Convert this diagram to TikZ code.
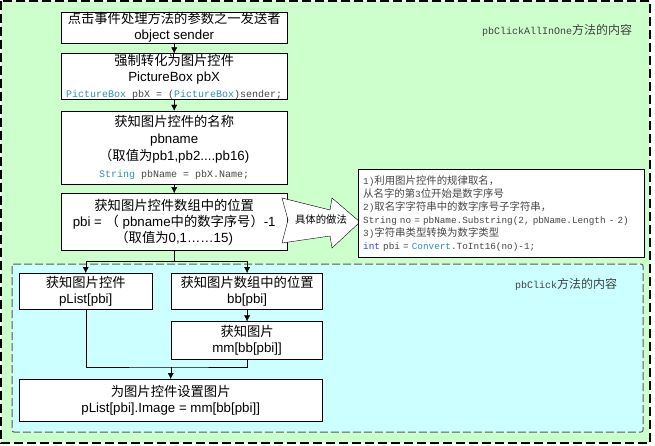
\documentclass[tikz,border=0pt]{standalone}
\usepackage{fontspec}
\setmainfont{Liberation Sans}
\newfontfamily\cjk{Noto Sans CJK SC}
\newfontfamily\codefont{Liberation Mono}
\usetikzlibrary{
    arrows.meta,
    positioning,
    calc
}
\definecolor{regiongreen}{RGB}{204,255,204}
\definecolor{regioncyan}{RGB}{204,255,255}
\definecolor{typeteal}{RGB}{43,145,175}
\definecolor{kwblue}{RGB}{60,60,230}
\definecolor{codegray}{RGB}{70,70,70}
\newcommand{\zh}[1]{{\cjk #1}}
\newcommand{\zhc}[1]{{\fontsize{10.4}{13}\selectfont\cjk #1}}
\newcommand{\zht}[1]{{\fontsize{12}{14}\selectfont\cjk #1}}
\newcommand{\cd}[1]{{\fontsize{10}{16}\selectfont\codefont\color{codegray}#1}}
\newcommand{\tp}[1]{\textcolor{typeteal}{#1}}

\begin{document}
\begin{tikzpicture}[
    x=1pt, y=-1pt,
    block/.style={rectangle, draw=black, fill=white, inner sep=0pt,
                  align=center, text centered,
                  font=\fontsize{13.3}{16}\selectfont},
    codebox/.style={rectangle, draw=black, fill=white, inner xsep=5pt, inner ysep=0pt,
                    align=left, text width=276pt, minimum height=88pt,
                    font=\fontsize{9.35}{13}\selectfont\codefont\color{codegray}},
    regionlabel/.style={font=\fontsize{10}{12}\selectfont\codefont, text=black!75},
    arrow/.style={-{Latex[length=6pt,width=6pt]}, black},
    line/.style={black}
]

    % regions
    \useasboundingbox (0,0) rectangle (655,446);
    \draw [fill=regiongreen, draw=black, line width=1.6pt, dash pattern=on 9pt off 4pt]
        (1,1) rectangle (650,443);
    \draw [fill=regioncyan, draw=black!65, line width=1pt, dash pattern=on 8pt off 3pt, rounded corners=2pt]
        (12,264) rectangle (643,432);
    \node (allinone) [regionlabel] at (557,30) {pbClickAllInOne\zht{方法的内容}};
    \node (click) [regionlabel] at (566,284) {pbClick\zht{方法的内容}};

    % pbClickAllInOne
    \node (sender) [block, minimum width=226pt, minimum height=31pt, anchor=north west] at (61,12)
        {\zh{点击事件处理方法的参数之一发送者}\\object sender};
    \node (pbx) [block, minimum width=226pt, minimum height=46pt, below=10pt of sender]
        {\zh{强制转化为图片控件}\\PictureBox pbX\\\cd{\tp{PictureBox} pbX = (\tp{PictureBox})sender;}};
    \node (pbname) [block, minimum width=226pt, minimum height=73pt, below=11pt of pbx,
                    font=\fontsize{13.3}{17.2}\selectfont]
        {\zh{获知图片控件的名称}\\pbname\\\zh{（取值为}pb1,pb2....pb16)\\\cd{\tp{String} pbName = pbX.Name;}};
    \node (pbi) [block, minimum width=226pt, minimum height=57pt, below=9pt of pbname]
        {\zh{获知图片控件数组中的位置}\\pbi = \zh{（} pbname\zh{中的数字序号）}-1\\\zh{（取值为}0,1……15)};

    % how it is done
    \draw [fill=white, draw=black] (282,198) -- (330,210) -- (332,198) -- (360,222)
        -- (332,248) -- (330,236) -- (282,243) -- (288,220) -- cycle;
    \node (howto) at (321,220) {\zhc{具体的做法}};
    \node (code) [codebox, anchor=north west] at (358,169)
        {1)\zhc{利用图片控件的规律取名，}\\
         \zhc{从名字的第}3\zhc{位开始是数字序号}\\
         2)\zhc{取名字字符串中的数字序号子字符串，}\\
         String no = pbName.Substring(2, pbName.Length - 2)\\
         3)\zhc{字符串类型转换为数字类型}\\
         \textcolor{kwblue}{int} pbi = \tp{Convert}.ToInt16(no)-1;};

    % pbClick
    \node (plist) [block, minimum width=133pt, minimum height=36pt, anchor=north west] at (19,273)
        {\zh{获知图片控件}\\pList[pbi]};
    \node (bb) [block, minimum width=151pt, minimum height=36pt, right=19pt of plist]
        {\zh{获知图片数组中的位置}\\bb[pbi]};
    \node (mm) [block, minimum width=151pt, minimum height=38pt, below=12pt of bb]
        {\zh{获知图片}\\mm[bb[pbi]]};
    \node (image) [block, minimum width=303pt, minimum height=42pt, anchor=north west] at (19,379)
        {\zh{为图片控件设置图片}\\pList[pbi].Image = mm[bb[pbi]]};

    \coordinate (split) at ($(pbi.south)+(0,11)$);
    \coordinate (merge) at (image.north |- 0,367);

    \draw [arrow] (sender) -- (pbx);
    \draw [arrow] (pbx) -- (pbname);
    \draw [arrow] (pbname) -- (pbi);
    \draw [line] (pbi.south) -- (split);
    \draw [arrow] (split) -| (plist.north);
    \draw [arrow] (split) -| (bb.north);
    \draw [arrow] (bb) -- (mm);
    \draw [line] (plist.south) |- (merge) -| (mm.south);
    \draw [arrow] (merge) -- (image.north);

\end{tikzpicture}
\end{document}
